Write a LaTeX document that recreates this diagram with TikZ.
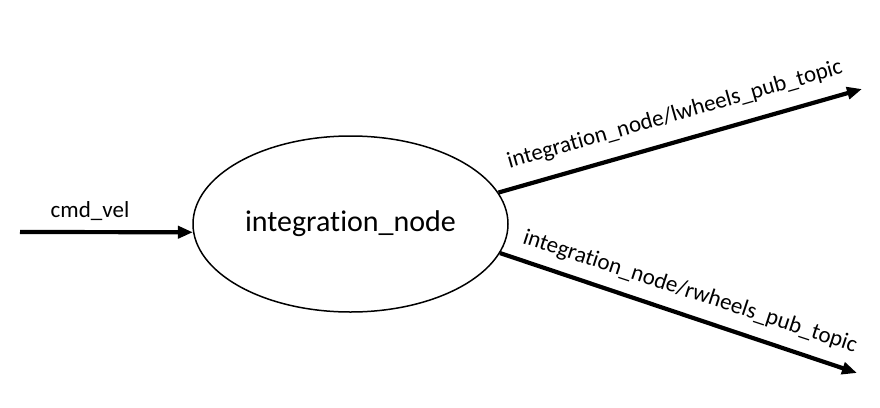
\documentclass[tikz,border=0pt]{standalone}
\usepackage{fontspec}
\setmainfont[Ligatures={NoCommon}]{Carlito}
\usetikzlibrary{shapes.geometric,arrows.meta}
\begin{document}
\begin{tikzpicture}[x=1pt,y=-1pt,
  conn/.style={line width=4.2pt,-{Triangle[length=15pt,width=12pt]}},
  lbl/.style={font=\fontsize{23}{27}\selectfont,inner sep=0pt}]
\useasboundingbox (0,0) rectangle (880,407);
\node[draw,ellipse,line width=1.5pt,minimum width=315pt,minimum height=176pt,inner sep=0pt,
  font=\fontsize{30}{36}\selectfont] (n) at (350.5,224) {integration\_node};
\coordinate (inp) at (20,232);
\coordinate (lout) at (862,89);
\coordinate (rout) at (857,373);
\draw[conn] (inp) -- (n.183);
\draw[conn] (n.12) -- (lout);
\draw[conn] (n.349) -- (rout);
\node[lbl] (lc) at (90,211) {cmd\_vel};
\node[lbl,rotate=15.9] (ll) at (675,115) {integration\_node/lwheels\_pub\_topic};
\node[lbl,rotate=-18.2] (lr) at (690,292) {integration\_node/rwheels\_pub\_topic};
\end{tikzpicture}
\end{document}
